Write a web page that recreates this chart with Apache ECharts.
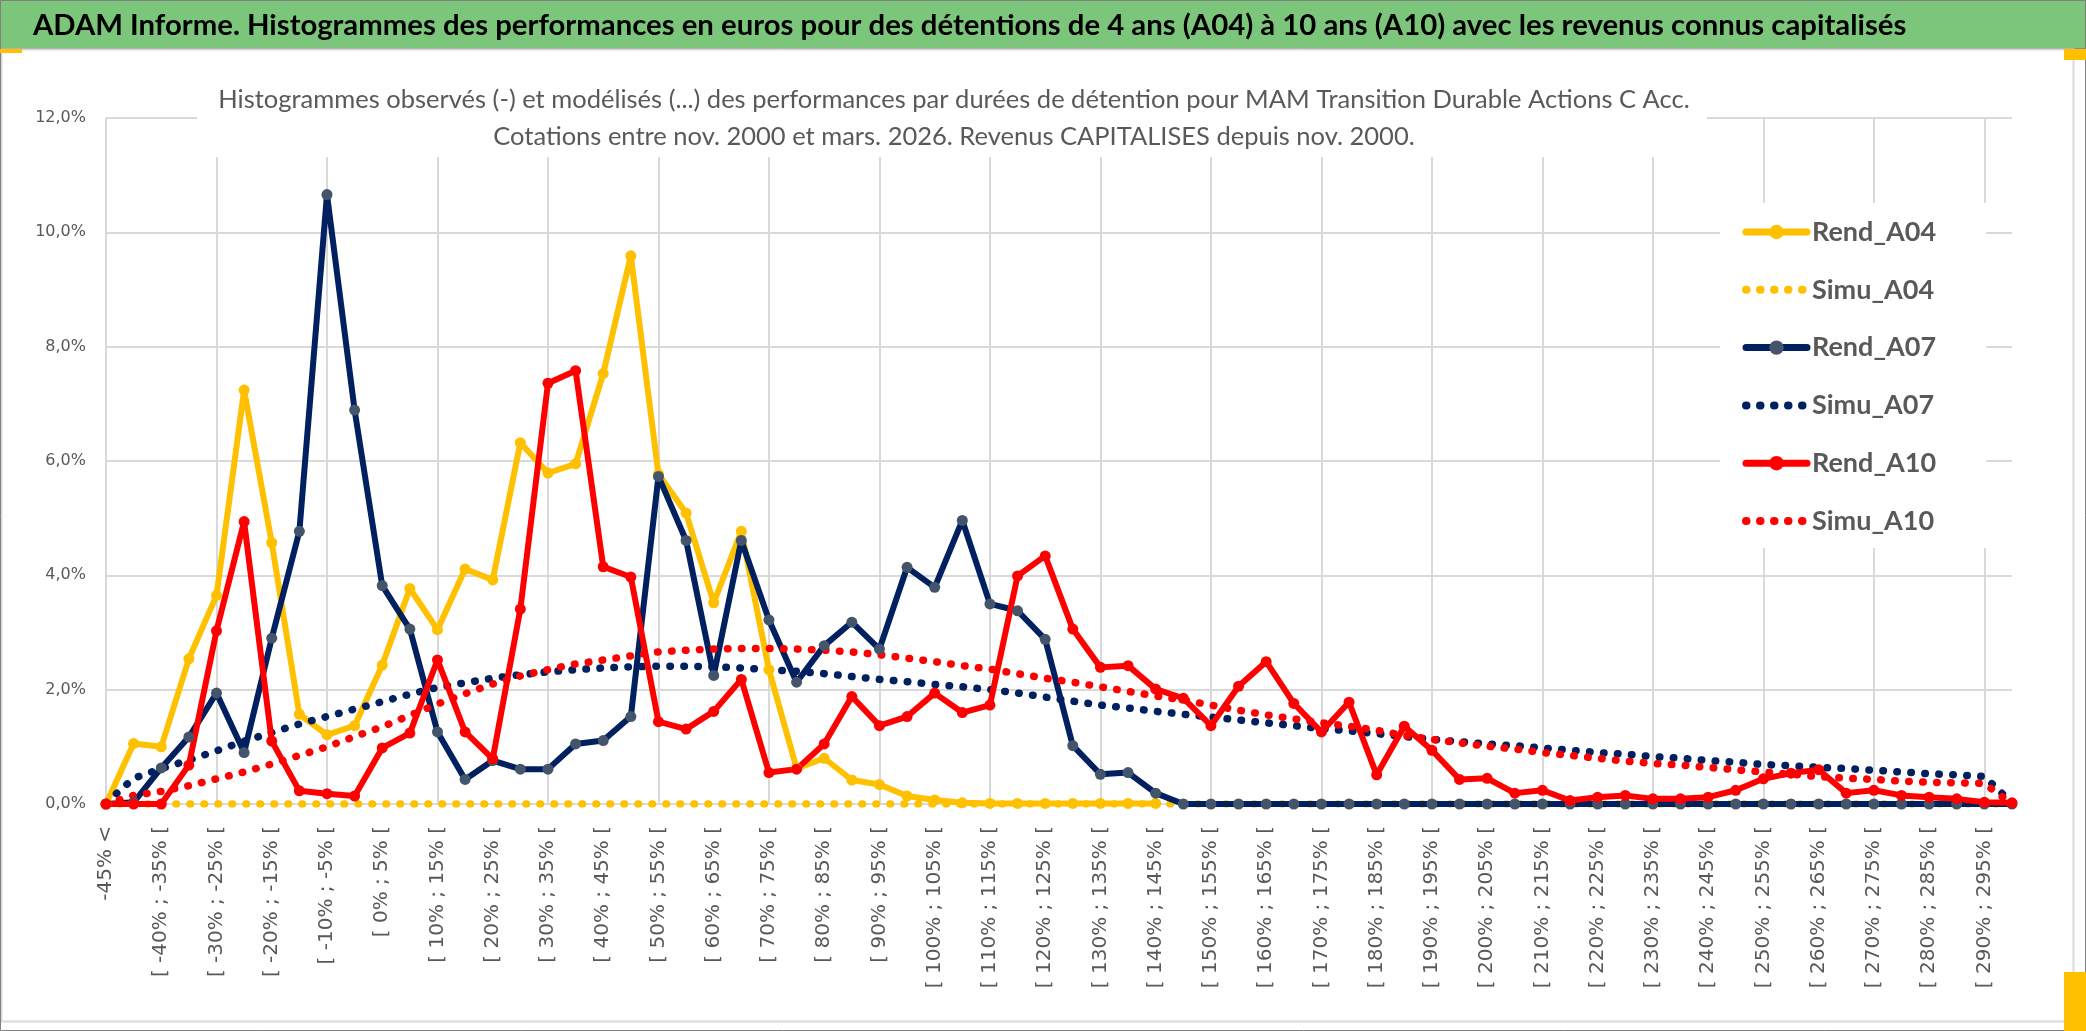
<!DOCTYPE html>
<html>
<head>
<meta charset="utf-8">
<script src="https://cdn.jsdelivr.net/npm/echarts@6/dist/echarts.min.js"></script>
<style>
html,body{margin:0;padding:0;background:#fff;}
#chart{width:2086px;height:1031px;}
</style>
</head>
<body>
<div id="chart"></div>
<script>
// ---- data ----
const titleText = "ADAM Informe. Histogrammes des performances en euros pour des détentions de 4 ans (A04) à 10 ans (A10) avec les revenus connus capitalisés";
const subtitleLines = [
  "Histogrammes observés (-) et modélisés (...) des performances par durées de détention pour MAM Transition Durable Actions C Acc.",
  "Cotations entre nov. 2000 et mars. 2026. Revenus CAPITALISES depuis nov. 2000."
];
const binStarts = [-45,-40,-35,-30,-25,-20,-15,-10,-5,0,5,10,15,20,25,30,35,40,45,50,55,60,65,70,75,80,85,90,95,100,105,110,115,120,125,130,135,140,145,150,155,160,165,170,175,180,185,190,195,200,205,210,215,220,225,230,235,240,245,250,255,260,265,270,275,280,285,290,295];
const categories = ["-45% <"].concat(binStarts.map(a => "[ " + a + "% ; " + (a + 5) + "% ["));

const seriesNames = ["Rend_A04","Simu_A04","Rend_A07","Simu_A07","Rend_A10","Simu_A10"];

const rendA04 = [0,1.06,1.0,2.54,3.65,7.24,4.57,1.57,1.21,1.37,
  2.43,3.77,3.05,4.11,3.92,6.32,5.79,5.95,7.53,9.59,
  5.77,5.09,3.52,4.77,2.35,0.62,0.80,0.42,0.34,0.14,
  0.07,0.02,0.01,0.01,0.01,0.01,0.01,0.01,0.01,null,
  null,null,null,null,null,null,null,null,null,null,
  null,null,null,null,null,null,null,null,null,null,
  null,null,null,null,null,null,null,null,null,null];
const simuA04 = [0,0,0,0,0,0,0,0,0,0, 0,0,0,0,0,0,0,0,0,0,
  0,0,0,0,0,0,0,0,0,0, 0,0,0,0,0,0,0,0,0,0,
  0,0,0,0,0,0,0,0,0,0, 0,0,0,0,0,0,0,0,0,0,
  0,0,0,0,0,0,0,0,0,0];
const rendA07 = [0,0.03,0.63,1.17,1.94,0.90,2.90,4.77,10.66,6.89,
  3.82,3.06,1.26,0.43,0.76,0.61,0.61,1.05,1.11,1.53,
  5.73,4.61,2.25,4.61,3.22,2.13,2.77,3.18,2.71,4.14,
  3.79,4.96,3.50,3.38,2.88,1.02,0.52,0.55,0.19,0,
  0,0,0,0,0,0,0,0,0,0, 0,0,0,0,0,0,0,0,0,0,
  0,0,0,0,0,0,0,0,0,0];
const simuA07 = [0.02,0.45,0.62,0.77,0.93,1.10,1.25,1.40,1.53,1.66,
  1.79,1.92,2.04,2.12,2.20,2.26,2.31,2.35,2.38,2.40,
  2.41,2.41,2.40,2.38,2.35,2.32,2.28,2.23,2.18,2.14,
  2.09,2.05,2.00,1.94,1.87,1.80,1.73,1.68,1.62,1.57,
  1.52,1.47,1.42,1.37,1.32,1.28,1.23,1.18,1.13,1.09,
  1.05,1.02,0.98,0.94,0.90,0.87,0.83,0.80,0.76,0.73,
  0.69,0.67,0.64,0.62,0.59,0.56,0.53,0.51,0.48,0.02];
const rendA10 = [0,0,0,0.68,3.03,4.94,1.10,0.23,0.18,0.14,
  0.98,1.24,2.52,1.26,0.79,3.41,7.36,7.58,4.15,3.97,
  1.44,1.31,1.62,2.18,0.55,0.61,1.05,1.88,1.37,1.53,
  1.94,1.60,1.73,3.99,4.34,3.06,2.39,2.42,2.01,1.85,
  1.37,2.06,2.49,1.76,1.26,1.78,0.51,1.36,0.94,0.43,
  0.45,0.19,0.24,0.06,0.12,0.15,0.09,0.09,0.12,0.24,
  0.44,0.54,0.60,0.19,0.24,0.15,0.12,0.09,0.03,0.02];
const simuA10 = [0.00,0.15,0.22,0.32,0.44,0.56,0.70,0.85,1.00,1.18,
  1.35,1.55,1.75,1.93,2.10,2.24,2.35,2.45,2.52,2.59,
  2.66,2.69,2.71,2.72,2.72,2.71,2.69,2.66,2.61,2.55,
  2.49,2.42,2.36,2.28,2.20,2.13,2.05,1.97,1.89,1.82,
  1.73,1.64,1.56,1.49,1.42,1.36,1.29,1.20,1.13,1.07,
  1.01,0.96,0.90,0.85,0.80,0.75,0.71,0.68,0.64,0.60,
  0.56,0.52,0.48,0.45,0.43,0.40,0.38,0.37,0.36,0.00];

const yTicks = {min: 0, max: 12, interval: 2};

// ---- styles ----
const YELLOW = '#FFC000', NAVY = '#002060', NAVY_MK = '#44546A', RED = '#FF0000';
const GRID_C = '#D9D9D9', TXT = '#595959';
const DOT = [0.5, 13.5];

function rend(name, data, lineColor, markColor) {
  return {
    name: name, type: 'line', data: data,
    symbol: 'circle', symbolSize: 11, showAllSymbol: true,
    lineStyle: {color: lineColor, width: 6, join: 'round'},
    itemStyle: {color: markColor},
    connectNulls: false, animation: false
  };
}
function simu(name, data, color) {
  return {
    name: name, type: 'line', data: data,
    symbol: 'circle', showSymbol: false, symbolSize: 1,
    lineStyle: {color: color, width: 7.5, type: DOT, cap: 'round'},
    itemStyle: {color: color},
    animation: false
  };
}
function simuLegend(name) {
  return {name: name, itemStyle: {opacity: 0}, lineStyle: {cap: 'round', width: 8, type: [0.5, 13.5]}};
}
function rendLegend(name, markColor) {
  return {name: name, itemStyle: {color: markColor, opacity: 1}, lineStyle: {cap: 'round', width: 7, type: 'solid'}};
}

const chart = echarts.init(document.getElementById('chart'), null, {renderer: 'canvas'});
const subX = 954;
chart.setOption({
  animation: false,
  backgroundColor: '#ffffff',
  grid: {left: 106, right: 74, top: 118, bottom: 227, containLabel: false},
  xAxis: {
    type: 'category', data: categories, boundaryGap: false,
    axisLine: {show: true, lineStyle: {color: GRID_C, width: 2}},
    axisTick: {show: false},
    axisLabel: {interval: 1, rotate: 90, margin: 22, color: TXT, fontFamily: 'DejaVu Sans', fontSize: 20},
    splitLine: {show: true, interval: 3, lineStyle: {color: GRID_C, width: 2}}
  },
  yAxis: {
    type: 'value', min: yTicks.min, max: yTicks.max, interval: yTicks.interval,
    axisLine: {show: false}, axisTick: {show: false},
    axisLabel: {margin: 20, color: TXT, fontFamily: 'DejaVu Sans', fontSize: 16,
      formatter: v => v.toFixed(1).replace('.', ',') + '%'},
    splitLine: {show: true, lineStyle: {color: GRID_C, width: 2}}
  },
  legend: {
    orient: 'vertical', left: 1720, top: 203,
    padding: [14, 50, 12, 22], backgroundColor: '#ffffff',
    itemWidth: 61, itemHeight: 18, itemGap: 27.8,
    lineStyle: {cap: 'round'},
    textStyle: {fontFamily: 'Lato', fontWeight: 'bold', fontSize: 27, color: TXT, lineHeight: 30},
    data: [
      rendLegend('Rend_A04', YELLOW),
      simuLegend('Simu_A04'),
      rendLegend('Rend_A07', NAVY_MK),
      simuLegend('Simu_A07'),
      rendLegend('Rend_A10', RED),
      simuLegend('Simu_A10')
    ]
  },
  series: [
    rend(seriesNames[0], rendA04, YELLOW, YELLOW),
    simu(seriesNames[1], simuA04, YELLOW),
    rend(seriesNames[2], rendA07, NAVY, NAVY_MK),
    simu(seriesNames[3], simuA07, NAVY),
    rend(seriesNames[4], rendA10, RED, RED),
    simu(seriesNames[5], simuA10, RED)
  ],
  graphic: [
    {type: 'rect', z: 50, shape: {x: 0.5, y: 0.5, width: 2085, height: 48}, style: {fill: '#7CC67C', stroke: '#8C8C8C', lineWidth: 1}},
    {type: 'text', z: 51, x: 33, y: 26, style: {text: titleText, fill: '#000', fontFamily: 'Lato', fontWeight: 'bold', fontSize: 29.3, verticalAlign: 'middle', align: 'left'}},
    {type: 'rect', z: 50, shape: {x: 1.5, y: 49.5, width: 2072, height: 972}, style: {fill: null, stroke: '#D9D9D9', lineWidth: 2}},
    {type: 'rect', z: 50, shape: {x: 0.5, y: 0.5, width: 2085, height: 1030}, style: {fill: null, stroke: '#808080', lineWidth: 1}},
    {type: 'rect', z: 50, shape: {x: 197, y: 80, width: 1510, height: 77}, style: {fill: '#ffffff'}},
    {type: 'text', z: 51, x: subX, y: 100, style: {text: subtitleLines[0], fill: TXT, fontFamily: 'Lato', fontSize: 25.5, align: 'center', verticalAlign: 'middle'}},
    {type: 'text', z: 51, x: subX, y: 137, style: {text: subtitleLines[1], fill: TXT, fontFamily: 'Lato', fontSize: 25.5, align: 'center', verticalAlign: 'middle'}},
    {type: 'rect', z: 52, shape: {x: 0, y: 49, width: 22, height: 4}, style: {fill: YELLOW}},
    {type: 'rect', z: 52, shape: {x: 2064, y: 49, width: 22, height: 11}, style: {fill: YELLOW}},
    {type: 'rect', z: 52, shape: {x: 2064, y: 972, width: 22, height: 59}, style: {fill: YELLOW}}
  ]
});
</script>
</body>
</html>
